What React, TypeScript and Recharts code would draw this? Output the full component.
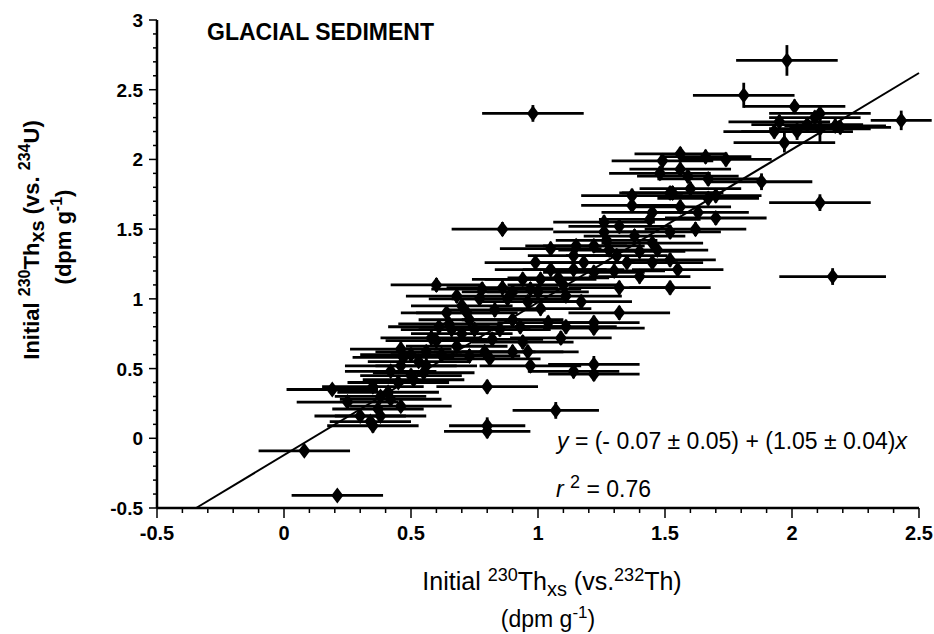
import React from 'react';
import { ScatterChart, Scatter, XAxis, YAxis, ErrorBar, ReferenceLine, Customized } from 'recharts';

// initial 230Th excess vs 232Th (x) and vs 234U (y), dpm/g
const xValues = [
  1.98, 1.81, 0.98, 2.43, 2.11, 2.16, 1.88, 1.07, 0.80, 0.80, 0.08, 0.21, 0.86, 0.80,
  2.01, 2.11, 1.93, 1.97, 2.06, 2.11, 2.17, 1.95, 2.09, 2.19, 2.02,
  1.56, 1.49, 1.66, 1.74, 1.56, 1.59, 1.67, 1.53, 1.60, 1.45, 1.56, 1.70, 1.37, 1.37, 1.52, 1.44, 1.26, 1.26, 1.52, 1.70, 1.63,
  1.05, 1.14, 1.22, 1.31, 1.40, 1.35, 1.45, 1.55, 1.05, 1.14, 1.22, 0.94, 1.01, 1.40, 1.52, 1.32, 1.17, 1.11, 1.32, 1.22, 1.11,
  0.77, 0.88, 0.96, 1.01, 0.64, 0.73, 0.93, 1.04, 0.94, 0.82, 0.60, 1.27, 1.18, 0.86, 0.97, 1.10, 0.78, 1.30, 1.45,
  1.22, 1.09, 1.22, 1.22, 1.14, 0.81, 0.96, 0.97, 0.90,
  0.19, 0.25, 0.35, 0.35, 0.37, 0.46, 0.46, 0.46, 0.56, 0.56, 0.50, 0.66, 0.61, 0.72, 0.73, 0.51, 0.41, 0.38, 0.30, 0.34,
  0.42, 0.55, 0.60, 0.68, 0.79, 0.85, 0.70, 0.62, 0.90, 0.50, 0.45,
  1.38, 1.32, 1.47, 1.28, 1.52, 1.62, 1.67, 1.48,
  0.65, 0.70, 0.75, 0.83, 0.90, 0.68, 0.58, 0.53, 0.42, 0.38, 1.00, 1.08, 1.15, 0.99, 0.47,
];
const yValues = [
  2.71, 2.46, 2.33, 2.28, 1.69, 1.16, 1.84, 0.20, 0.09, 0.05, -0.09, -0.41, 1.50, 0.37,
  2.38, 2.33, 2.20, 2.12, 2.25, 2.22, 2.24, 2.27, 2.30, 2.23, 2.20,
  2.04, 1.99, 2.02, 2.00, 1.93, 1.88, 1.86, 1.76, 1.79, 1.62, 1.66, 1.74, 1.74, 1.67, 1.76, 1.57, 1.55, 1.48, 1.48, 1.58, 1.62,
  1.36, 1.31, 1.38, 1.31, 1.34, 1.26, 1.26, 1.21, 1.21, 1.21, 1.19, 1.14, 1.14, 1.16, 1.08, 1.08, 0.98, 1.02, 0.90, 0.83, 0.80,
  1.00, 1.00, 0.98, 0.93, 0.90, 0.85, 0.80, 0.83, 0.69, 0.71, 1.10, 1.42, 1.26, 1.08, 1.07, 1.10, 1.07, 1.20, 1.40,
  0.79, 0.72, 0.53, 0.46, 0.48, 0.57, 0.62, 0.52, 0.62,
  0.35, 0.26, 0.09, 0.37, 0.21, 0.23, 0.64, 0.52, 0.52, 0.62, 0.60, 0.78, 0.80, 0.90, 0.59, 0.42, 0.33, 0.16, 0.16, 0.12,
  0.28, 0.47, 0.70, 0.66, 0.62, 0.78, 0.75, 0.60, 0.85, 0.45, 0.40,
  1.45, 1.52, 1.35, 1.35, 1.28, 1.50, 1.72, 1.90,
  0.82, 0.95, 0.78, 0.92, 1.05, 1.02, 0.72, 0.55, 0.48, 0.30, 1.05, 1.15, 1.38, 1.26, 0.58,
];
const xErrors = [
  0.20, 0.20, 0.20, 0.12, 0.20, 0.21, 0.20, 0.17, 0.15, 0.17, 0.18, 0.18, 0.20, 0.20,
  0.20, 0.20, 0.20, 0.20, 0.22, 0.20, 0.20, 0.20, 0.18, 0.20, 0.22,
  0.18, 0.20, 0.18, 0.18, 0.20, 0.20, 0.20, 0.20, 0.20, 0.20, 0.20, 0.18, 0.20, 0.20, 0.20, 0.20, 0.20, 0.20, 0.20, 0.20, 0.20,
  0.20, 0.18, 0.20, 0.20, 0.18, 0.20, 0.20, 0.18, 0.22, 0.20, 0.20, 0.20, 0.22, 0.20, 0.16, 0.20, 0.20, 0.22, 0.20, 0.18, 0.20,
  0.20, 0.22, 0.20, 0.20, 0.18, 0.20, 0.20, 0.20, 0.20, 0.20, 0.18, 0.20, 0.20, 0.22, 0.20, 0.22, 0.20, 0.20, 0.20,
  0.20, 0.20, 0.18, 0.18, 0.18, 0.20, 0.20, 0.20, 0.20,
  0.18, 0.20, 0.18, 0.20, 0.18, 0.20, 0.20, 0.22, 0.20, 0.20, 0.20, 0.20, 0.20, 0.20, 0.20, 0.20, 0.20, 0.18, 0.18, 0.16,
  0.20, 0.20, 0.20, 0.20, 0.20, 0.20, 0.20, 0.20, 0.20, 0.20, 0.20,
  0.20, 0.20, 0.20, 0.20, 0.18, 0.20, 0.20, 0.20,
  0.20, 0.20, 0.22, 0.20, 0.20, 0.20, 0.20, 0.20, 0.18, 0.18, 0.20, 0.20, 0.20, 0.20, 0.20,
];
const yErrors = [
  0.11, 0.09, 0.06, 0.07, 0.06, 0.06, 0.06, 0.06, 0.06, 0.05, 0.04, 0.04, 0.05, 0.05,
  0.05, 0.06, 0.05, 0.07, 0.05, 0.10, 0.05, 0.05, 0.05, 0.05, 0.06,
  0.05, 0.05, 0.05, 0.05, 0.05, 0.05, 0.05, 0.05, 0.05, 0.05, 0.05, 0.05, 0.05, 0.05, 0.05, 0.05, 0.05, 0.05, 0.05, 0.05, 0.05,
  0.05, 0.05, 0.05, 0.05, 0.05, 0.05, 0.05, 0.05, 0.05, 0.05, 0.05, 0.05, 0.05, 0.05, 0.05, 0.05, 0.05, 0.05, 0.05, 0.05, 0.05,
  0.05, 0.05, 0.05, 0.05, 0.05, 0.05, 0.05, 0.05, 0.05, 0.05, 0.05, 0.05, 0.05, 0.05, 0.05, 0.05, 0.05, 0.05, 0.05,
  0.05, 0.05, 0.06, 0.05, 0.05, 0.05, 0.05, 0.05, 0.05,
  0.04, 0.04, 0.05, 0.04, 0.04, 0.04, 0.05, 0.05, 0.05, 0.05, 0.05, 0.05, 0.05, 0.05, 0.05, 0.04, 0.04, 0.04, 0.04, 0.04,
  0.04, 0.05, 0.05, 0.05, 0.05, 0.05, 0.05, 0.05, 0.05, 0.05, 0.04,
  0.05, 0.05, 0.05, 0.05, 0.05, 0.05, 0.05, 0.05,
  0.05, 0.05, 0.05, 0.05, 0.05, 0.05, 0.05, 0.04, 0.04, 0.04, 0.05, 0.05, 0.05, 0.05, 0.04,
];

const xMajorTicks = [-0.5, 0, 0.5, 1, 1.5, 2, 2.5];
const yMajorTicks = [-0.5, 0, 0.5, 1, 1.5, 2, 2.5, 3];

// regression line as drawn in the figure
const fitLine = [
  { x: -0.346, y: -0.5 },
  { x: 2.5, y: 2.62 },
];

const data = xValues.map((x, i) => ({ x, y: yValues[i], ex: xErrors[i], ey: yErrors[i] }));

const withMinor = (major: number[]) => {
  const out: number[] = [];
  const lo = Math.round(major[0] * 10);
  const hi = Math.round(major[major.length - 1] * 10);
  for (let k = lo; k <= hi; k++) out.push(k / 10);
  return out;
};
const isMajor = (v: number) => Math.abs(v * 2 - Math.round(v * 2)) < 1e-6;

const FONT = '"Liberation Sans", Arial, Helvetica, sans-serif';

const XTick = ({ x, y, payload }: any) => {
  const major = isMajor(payload.value);
  return (
    <g>
      <line x1={x} x2={x} y1={y} y2={y + (major ? 10 : 5)} stroke="#000" strokeWidth={1.5} />
      {major && (
        <text x={x} y={y + 32} textAnchor="middle" fontFamily={FONT} fontSize={20} fontWeight="bold" fill="#000">
          {String(payload.value)}
        </text>
      )}
    </g>
  );
};

const YTick = ({ x, y, payload }: any) => {
  const major = isMajor(payload.value);
  return (
    <g>
      <line x1={x - (major ? 8 : 4)} x2={x} y1={y} y2={y} stroke="#000" strokeWidth={1.5} />
      {major && (
        <text x={x - 14} y={y + 7} textAnchor="end" fontFamily={FONT} fontSize={19} fontWeight="bold" fill="#000">
          {String(payload.value)}
        </text>
      )}
    </g>
  );
};

const Diamond = (props: any) => {
  const { cx, cy } = props;
  return <polygon points={`${cx},${cy - 8} ${cx + 6},${cy} ${cx},${cy + 8} ${cx - 6},${cy}`} fill="#000" />;
};

const Annotations = () => (
  <g fontFamily={FONT} fill="#000">
    <text x={207} y={40} fontSize={23} fontWeight="bold">GLACIAL SEDIMENT</text>

    <g transform="translate(39,240) rotate(-90)">
      <text x={0} y={0} textAnchor="middle" fontSize={22} fontWeight="bold">
        Initial <tspan fontSize={16} dy={-9}>230</tspan>
        <tspan dy={9}>Th</tspan>
        <tspan fontSize={20} dy={5}>xs</tspan>
        <tspan dy={-5}> (vs. </tspan>
        <tspan fontSize={16} dy={-9}>234</tspan>
        <tspan dy={9}>U)</tspan>
      </text>
    </g>
    <g transform="translate(71,237) rotate(-90)">
      <text x={0} y={0} textAnchor="middle" fontSize={22} fontWeight="bold">
        (dpm g<tspan fontSize={16} dy={-9}>-1</tspan>
        <tspan dy={9}>)</tspan>
      </text>
    </g>

    <text x={552} y={590} textAnchor="middle" fontSize={25}>
      Initial <tspan fontSize={18} dy={-9}>230</tspan>
      <tspan dy={9}>Th</tspan>
      <tspan fontSize={20} dy={6}>xs</tspan>
      <tspan dy={-6}> (vs.</tspan>
      <tspan fontSize={18} dy={-9}>232</tspan>
      <tspan dy={9}>Th)</tspan>
    </text>
    <text x={548} y={627} textAnchor="middle" fontSize={23}>
      (dpm g<tspan fontSize={17} dy={-9}>-1</tspan>
      <tspan dy={9}>)</tspan>
    </text>

    <text x={557} y={449} fontSize={23}>
      <tspan fontStyle="italic">y</tspan>
      <tspan> = (- 0.07 ± 0.05) + (1.05 ± 0.04)</tspan>
      <tspan fontStyle="italic">x</tspan>
    </text>
    <text x={556} y={497} fontSize={23}>
      <tspan fontStyle="italic">r </tspan>
      <tspan fontSize={18} dy={-9}>2</tspan>
      <tspan dy={9}> = 0.76</tspan>
    </text>
  </g>
);

export default function App() {
  return (
    <div style={{ position: 'absolute', left: 0, top: 0, background: '#fff' }}>
      <ScatterChart width={934} height={634} margin={{ top: 20, right: 15, bottom: 0, left: 0 }}>
        <XAxis
          type="number"
          dataKey="x"
          domain={[-0.5, 2.5]}
          ticks={withMinor(xMajorTicks)}
          interval={0}
          height={126}
          tickSize={0}
          tickMargin={0}
          tick={<XTick />}
          axisLine={{ stroke: '#000', strokeWidth: 2.5 }}
          allowDataOverflow
        />
        <YAxis
          type="number"
          dataKey="y"
          domain={[-0.5, 3]}
          ticks={withMinor(yMajorTicks)}
          interval={0}
          width={157}
          tickSize={0}
          tickMargin={0}
          tick={<YTick />}
          axisLine={{ stroke: '#000', strokeWidth: 2.5 }}
          allowDataOverflow
        />
        <ReferenceLine segment={fitLine} stroke="#000" strokeWidth={2} />
        <Scatter data={data} shape={<Diamond />} isAnimationActive={false}>
          <ErrorBar dataKey="ex" direction="x" width={0} stroke="#000" strokeWidth={2.8} isAnimationActive={false} />
          <ErrorBar dataKey="ey" direction="y" width={0} stroke="#000" strokeWidth={2.8} isAnimationActive={false} />
        </Scatter>
        <Customized component={Annotations} />
      </ScatterChart>
    </div>
  );
}
